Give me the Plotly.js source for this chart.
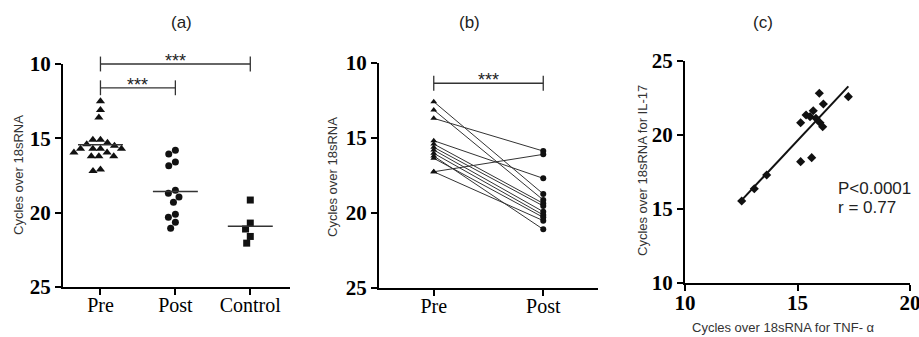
<!DOCTYPE html>
<html>
<head>
<meta charset="utf-8">
<script src="https://cdn.plot.ly/plotly-3.0.1.min.js"></script>
<style>
html,body{margin:0;padding:0;background:#fff;}
#chart{width:919px;height:337px;}
</style>
</head>
<body>
<div id="chart"></div>
<script>
// ---------- DATA ----------
// Panel (a)
const groupsA = ["Pre", "Post", "Control"];
const preA = [12.5, 13.1, 13.6, 15.1, 15.1, 15.3, 15.4, 15.5, 15.7, 15.7, 15.7, 15.7, 15.95, 15.95, 16.2, 16.2, 16.2, 17.1, 17.2];
const postA = [15.8, 16.05, 16.6, 16.85, 18.5, 18.7, 18.95, 19.3, 20.1, 20.3, 20.65, 21.05];
const controlA = [19.15, 20.7, 21.1, 21.6, 22.05];
const sigA = [
  {from: 0, to: 2, y: 10.0, label: "***"},
  {from: 0, to: 1, y: 11.6, label: "***"}
];
// Panel (b) paired values
const groupsB = ["Pre", "Post"];
const preB  = [12.58, 13.13, 13.69, 15.18, 17.25, 17.25, 15.40, 15.62, 15.80, 16.02, 16.20, 16.35];
const postB = [18.73, 19.13, 15.87, 17.69, 16.09, 20.51, 19.36, 19.53, 19.91, 20.13, 21.09, 20.29];
const sigB = [{from: 0, to: 1, y: 11.35, label: "***"}];
// Panel (c) correlation
const tnf  = [12.52, 13.08, 13.63, 15.14, 15.63, 15.97, 17.26, 16.15, 15.38, 15.70, 15.82, 15.56, 15.14, 16.00, 16.12];
const il17 = [15.52, 16.35, 17.28, 18.18, 18.45, 22.80, 22.57, 22.07, 21.33, 21.62, 21.11, 21.22, 20.81, 20.81, 20.54];
const statsText = ["P<0.0001", "r = 0.77"];
const yTicks = [10, 15, 20, 25];
const xTicksC = [10, 15, 20];

// ---------- LAYOUT GEOMETRY ----------
const W = 919, H = 337;
const px = v => v / W;
const py = v => 1 - v / H;
const A = {xd: [px(63), px(290)], yd: [py(287), py(64)], xr: [-0.5, 2.53], yr: [25, 10]};
const B = {xd: [px(379), px(598)], yd: [py(288), py(63)], xr: [-0.5, 1.5], yr: [25, 10]};
const C = {xd: [px(685), px(910)], yd: [py(282.7), py(60.7)], xr: [10, 20], yr: [10, 25]};

function toPaperX(P, v) { return P.xd[0] + (v - P.xr[0]) / (P.xr[1] - P.xr[0]) * (P.xd[1] - P.xd[0]); }
function toPaperY(P, v) { return P.yd[0] + (v - P.yr[0]) / (P.yr[1] - P.yr[0]) * (P.yd[1] - P.yd[0]); }
function pxPerUnitX(P) { return (P.xd[1] - P.xd[0]) * W / Math.abs(P.xr[1] - P.xr[0]); }
function pxPerUnitY(P) { return (P.yd[1] - P.yd[0]) * H / Math.abs(P.yr[1] - P.yr[0]); }

// beeswarm offsets (in px) derived from values
function swarm(vals, d, kY) {
  const idx = vals.map((v, i) => i).sort((a, b) => vals[a] - vals[b]);
  const placed = [];
  const off = new Array(vals.length);
  for (const i of idx) {
    const y = vals[i] * kY;
    const near = placed.filter(p => Math.abs(p.y - y) < d);
    const cands = [0];
    near.forEach(p => {
      const dx = Math.sqrt(d * d - (p.y - y) * (p.y - y));
      cands.push(p.x + dx, p.x - dx);
    });
    cands.sort((a, b) => (Math.abs(a) - Math.abs(b)) || (a - b));
    const c = cands.find(cc => near.every(p => Math.hypot(p.x - cc, p.y - y) >= d - 1e-6));
    placed.push({x: c, y: y});
    off[i] = c;
  }
  return off;
}
const mean = a => a.reduce((s, v) => s + v, 0) / a.length;

const INK = "#111";
const traces = [];

// ---------- PANEL (a) ----------
const kxA = pxPerUnitX(A), kyA = pxPerUnitY(A);
const seriesA = [preA, postA, controlA];
const symbolsA = ["triangle-up", "circle", "square"];
const sizesA = [8, 7, 7];
seriesA.forEach((vals, g) => {
  const off = swarm(vals, 7.6, kyA);
  traces.push({
    type: "scatter", mode: "markers", xaxis: "x", yaxis: "y",
    x: vals.map((v, i) => g + off[i] / kxA), y: vals,
    marker: {symbol: symbolsA[g], size: sizesA[g], color: INK},
    hoverinfo: "skip", showlegend: false, cliponaxis: false
  });
  const m = mean(vals);
  traces.push({
    type: "scatter", mode: "lines", xaxis: "x", yaxis: "y",
    x: [g - 0.3, g + 0.3], y: [m, m],
    line: {color: "#333", width: 1.5}, hoverinfo: "skip", showlegend: false
  });
});

// ---------- PANEL (b) ----------
const bx = [], by = [], bsym = [];
preB.forEach((v, i) => {
  bx.push(0, 1, null); by.push(v, postB[i], null);
  bsym.push("triangle-up", "circle", "circle");
});
traces.push({
  type: "scatter", mode: "lines+markers", xaxis: "x2", yaxis: "y2",
  x: bx, y: by, connectgaps: false,
  line: {color: "#333", width: 1},
  marker: {symbol: bsym, size: 6, color: INK},
  hoverinfo: "skip", showlegend: false, cliponaxis: false
});

// ---------- PANEL (c) ----------
const mx = mean(tnf), my = mean(il17);
let sxy = 0, sxx = 0;
tnf.forEach((v, i) => { sxy += (v - mx) * (il17[i] - my); sxx += (v - mx) * (v - mx); });
const slope = sxy / sxx, icpt = my - slope * mx;
const xmin = Math.min(...tnf), xmax = Math.max(...tnf);
traces.push({
  type: "scatter", mode: "lines", xaxis: "x3", yaxis: "y3",
  x: [xmin, xmax], y: [icpt + slope * xmin, icpt + slope * xmax],
  line: {color: INK, width: 2}, hoverinfo: "skip", showlegend: false
});
traces.push({
  type: "scatter", mode: "markers", xaxis: "x3", yaxis: "y3",
  x: tnf, y: il17,
  marker: {symbol: "diamond", size: 7, color: INK},
  hoverinfo: "skip", showlegend: false, cliponaxis: false
});

// ---------- AXES ----------
const serifBold = {family: "Liberation Serif, Times New Roman, serif", size: 21, color: "#000", weight: "bold"};
const serifReg = {family: "Liberation Serif, Times New Roman, serif", size: 20, color: "#000"};
function axisBase(extra) {
  return Object.assign({
    showline: true, linecolor: "#000", linewidth: 2,
    ticks: "outside", ticklen: 6, tickwidth: 2, tickcolor: "#000",
    showgrid: false, zeroline: false, fixedrange: true
  }, extra);
}

const shapes = [];
const annotations = [];
function addSig(P, list) {
  const tickH = 0.5;
  list.forEach(s => {
    const x0 = toPaperX(P, s.from), x1 = toPaperX(P, s.to), y = toPaperY(P, s.y);
    const yUp = toPaperY(P, s.y - tickH), yDn = toPaperY(P, s.y + tickH);
    const ln = {type: "line", xref: "paper", yref: "paper", line: {color: "#333", width: 1.3}};
    shapes.push(Object.assign({x0: x0, x1: x1, y0: y, y1: y}, ln));
    shapes.push(Object.assign({x0: x0, x1: x0, y0: yUp, y1: yDn}, ln));
    shapes.push(Object.assign({x0: x1, x1: x1, y0: yUp, y1: yDn}, ln));
    annotations.push({
      xref: "paper", yref: "paper", x: (x0 + x1) / 2, y: y, xanchor: "center", yanchor: "middle", yshift: 3,
      text: s.label, showarrow: false,
      font: {family: "Liberation Sans, Arial, sans-serif", size: 18, color: "#222"}
    });
  });
}
addSig(A, sigA);
addSig(B, sigB);

const sans = (s, c) => ({family: "Liberation Sans, Arial, sans-serif", size: s, color: c || "#222"});
function ann(x, y, text, font, extra) {
  annotations.push(Object.assign({xref: "paper", yref: "paper", x: px(x), y: py(y), xanchor: "center", yanchor: "middle",
    text: text, showarrow: false, font: font}, extra || {}));
}
// panel titles
ann(181, 22, "(a)", sans(17));
ann(470, 22, "(b)", sans(17));
ann(763, 22, "(c)", sans(17));
// axis titles
ann(18, 175, "Cycles over 18sRNA", sans(13, "#333"), {textangle: -90});
ann(332, 177, "Cycles over 18sRNA", sans(13, "#333"), {textangle: -90});
ann(642, 171, "Cycles over 18sRNA for IL-17", sans(13, "#333"), {textangle: -90});
ann(783, 327, "Cycles over 18sRNA for TNF- α", sans(13, "#333"));
// stats
ann(836, 188, statsText[0], sans(17, "#222"), {xanchor: "left"});
ann(836, 207, statsText[1], sans(17, "#222"), {xanchor: "left"});

const layout = {
  width: W, height: H,
  margin: {l: 0, r: 0, t: 0, b: 0},
  paper_bgcolor: "#fff", plot_bgcolor: "#fff",
  showlegend: false,
  xaxis: axisBase({domain: A.xd, range: A.xr, anchor: "y", tickmode: "array", tickvals: [0, 1, 2], ticktext: groupsA, tickfont: serifReg, ticklabelstandoff: -7}),
  yaxis: axisBase({domain: A.yd, range: A.yr, anchor: "x", tickmode: "array", tickvals: yTicks, tickfont: serifBold}),
  xaxis2: axisBase({domain: B.xd, range: B.xr, anchor: "y2", tickmode: "array", tickvals: [0, 1], ticktext: groupsB, tickfont: serifReg, ticklabelstandoff: -7}),
  yaxis2: axisBase({domain: B.yd, range: B.yr, anchor: "x2", tickmode: "array", tickvals: yTicks, tickfont: serifBold}),
  xaxis3: axisBase({domain: C.xd, range: C.xr, anchor: "y3", tickmode: "array", tickvals: xTicksC, tickfont: serifBold, ticklabelstandoff: -6, ticklabeloverflow: "allow"}),
  yaxis3: axisBase({domain: C.yd, range: C.yr, anchor: "x3", tickmode: "array", tickvals: yTicks, tickfont: serifBold}),
  shapes: shapes,
  annotations: annotations
};

Plotly.newPlot("chart", traces, layout, {displayModeBar: false, staticPlot: true});
</script>
</body>
</html>
